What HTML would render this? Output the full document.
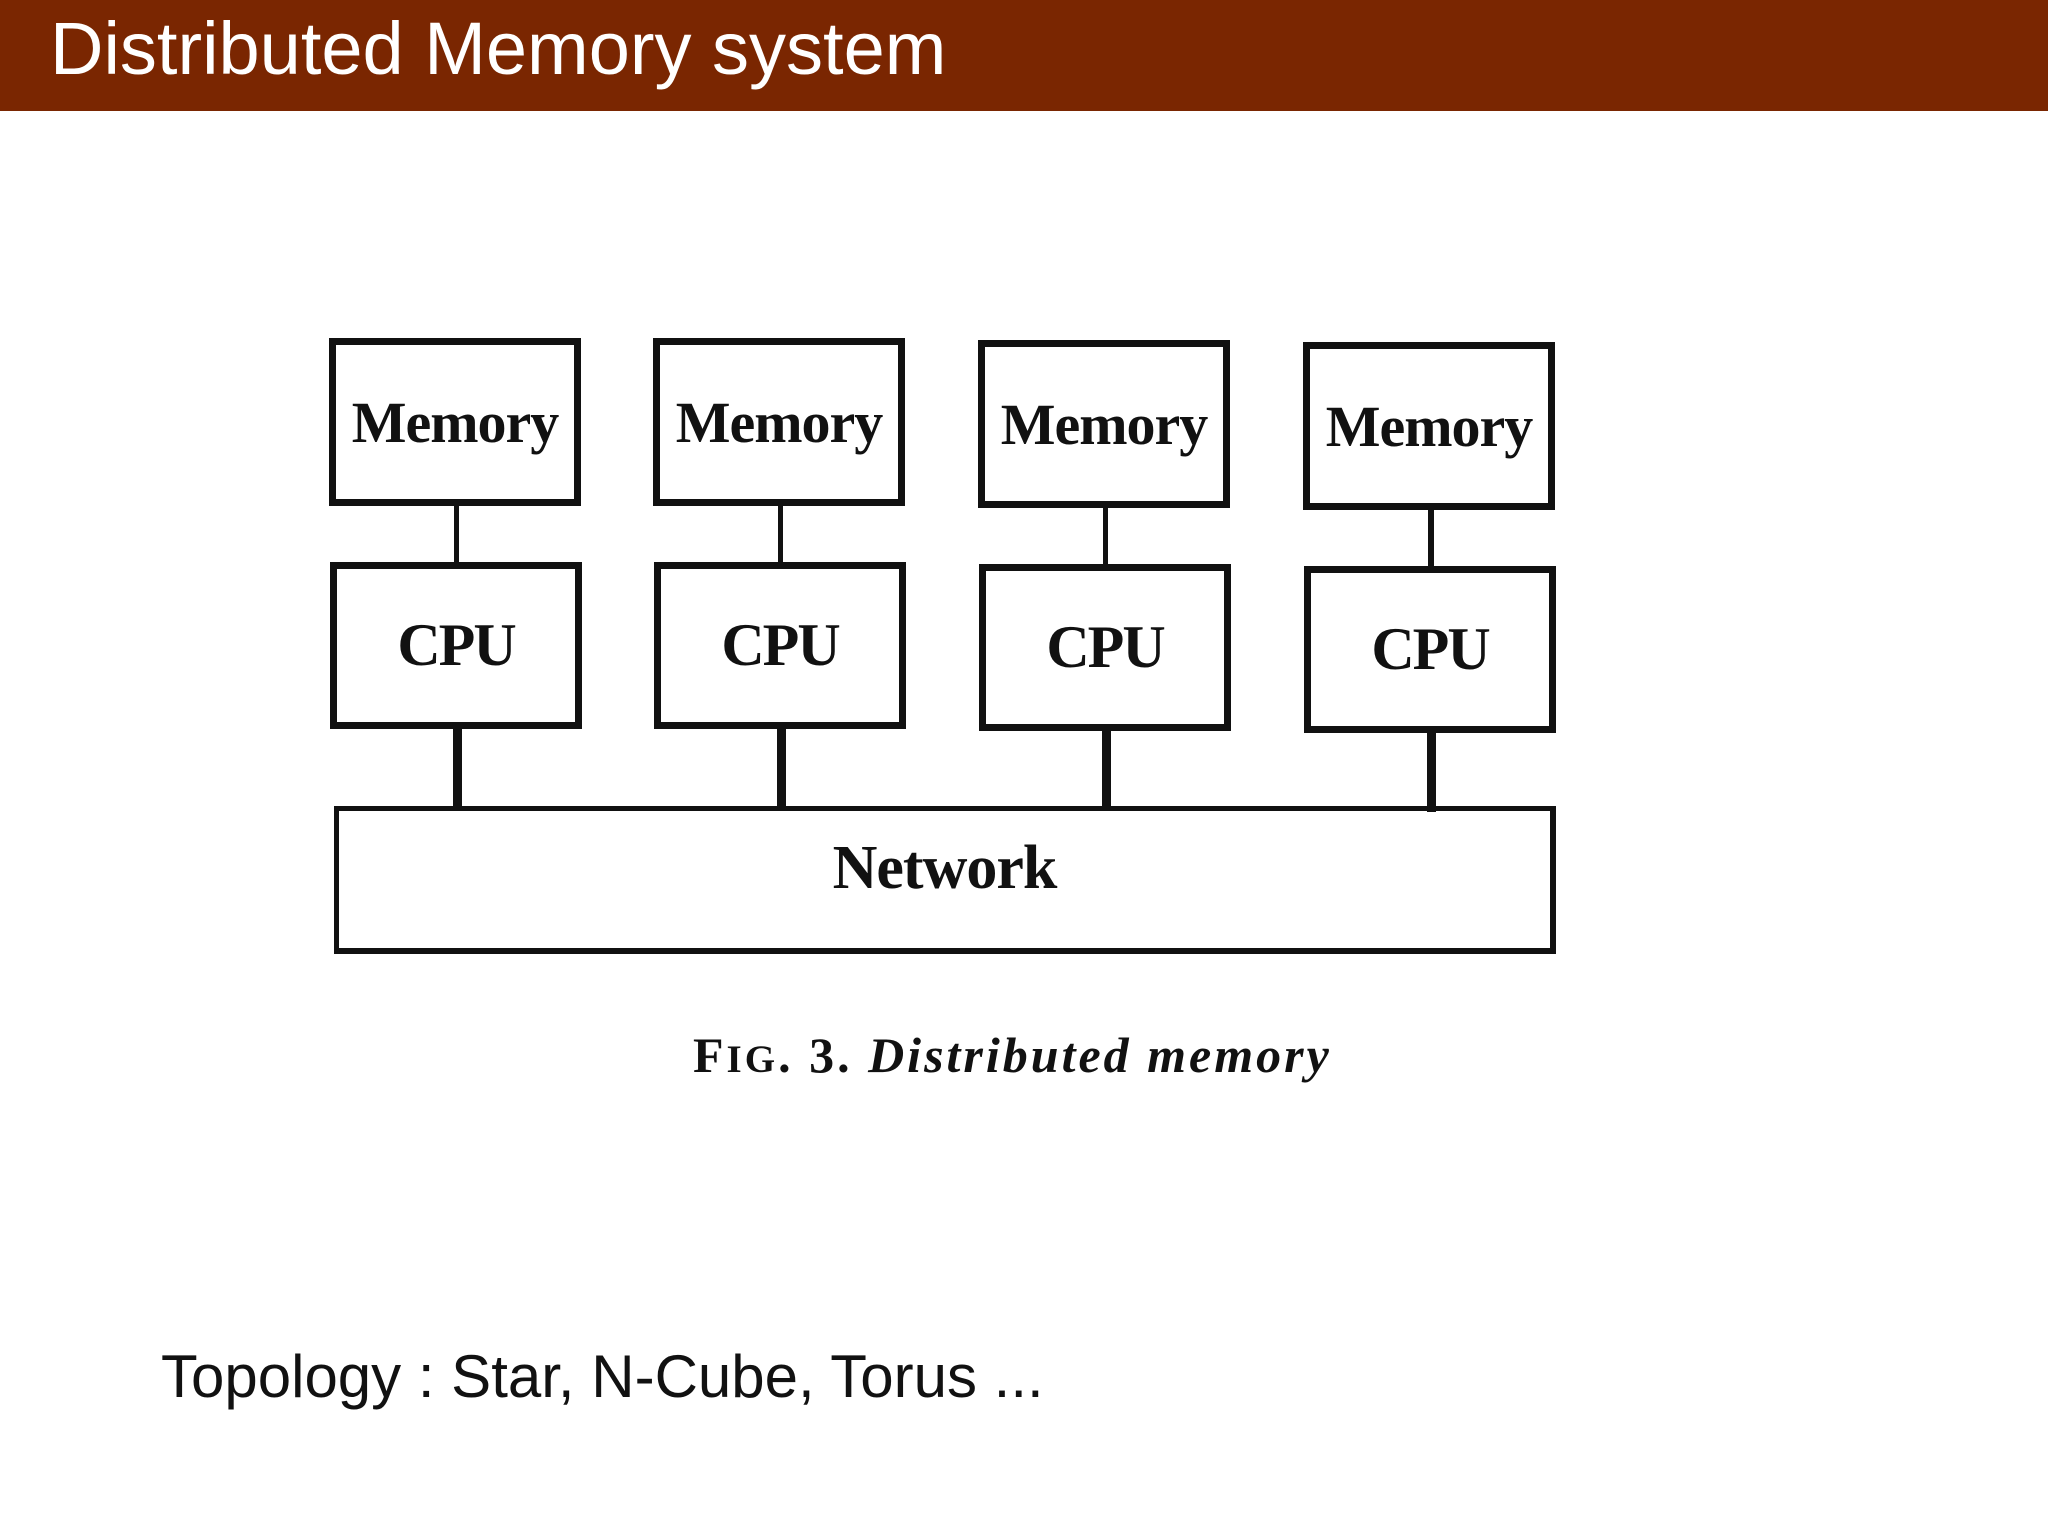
<!DOCTYPE html>
<html><head><meta charset="utf-8"><style>
body{margin:0;width:2048px;height:1536px;background:#fff;position:relative;overflow:hidden;font-family:"Liberation Sans",sans-serif}
.hdr{position:absolute;left:0;top:0;width:2048px;height:111px;background:#7a2601}
.ttl{position:absolute;left:50px;top:4px;color:#fff;font-size:74px;line-height:90px}
.b{position:absolute;border:7px solid #111;box-sizing:border-box;font-family:"Liberation Serif",serif;font-weight:bold;color:#111;display:flex;align-items:center;justify-content:center;letter-spacing:-1px}
.m{width:252px;height:168px;font-size:58px}
.c{width:252px;height:167px;font-size:60px;letter-spacing:-2px}
.v{position:absolute;background:#111}
</style></head><body>
<div class="hdr"></div><div class="ttl">Distributed Memory system</div>

<div class="b m" style="left:329px;top:338px">Memory</div>
<div class="b m" style="left:653px;top:338px">Memory</div>
<div class="b m" style="left:978px;top:340px">Memory</div>
<div class="b m" style="left:1303px;top:342px">Memory</div>

<div class="v" style="left:454px;top:506px;width:5px;height:56px"></div>
<div class="v" style="left:778px;top:506px;width:5px;height:56px"></div>
<div class="v" style="left:1103px;top:508px;width:5px;height:56px"></div>
<div class="v" style="left:1428px;top:510px;width:6px;height:56px"></div>

<div class="b c" style="left:330px;top:562px">CPU</div>
<div class="b c" style="left:654px;top:562px">CPU</div>
<div class="b c" style="left:979px;top:564px">CPU</div>
<div class="b c" style="left:1304px;top:566px">CPU</div>

<div class="v" style="left:453px;top:728px;width:9px;height:80px"></div>
<div class="v" style="left:777px;top:728px;width:9px;height:80px"></div>
<div class="v" style="left:1102px;top:730px;width:9px;height:80px"></div>
<div class="v" style="left:1427px;top:732px;width:9px;height:80px"></div>

<div class="b" style="left:334px;top:806px;width:1222px;height:148px;border-width:5px 6px 6px 5px;font-size:62px;padding-bottom:22px">Network</div>

<div style="position:absolute;left:693px;top:1026px;font-family:'Liberation Serif',serif;font-weight:bold;font-size:50px;letter-spacing:3px;color:#111;white-space:nowrap">F<span style="font-size:39px">IG</span>. 3. <i>Distributed memory</i></div>

<div style="position:absolute;left:161px;top:1342px;font-size:60px;color:#111;white-space:nowrap">Topology : Star, N-Cube, Torus ...</div>
</body></html>
